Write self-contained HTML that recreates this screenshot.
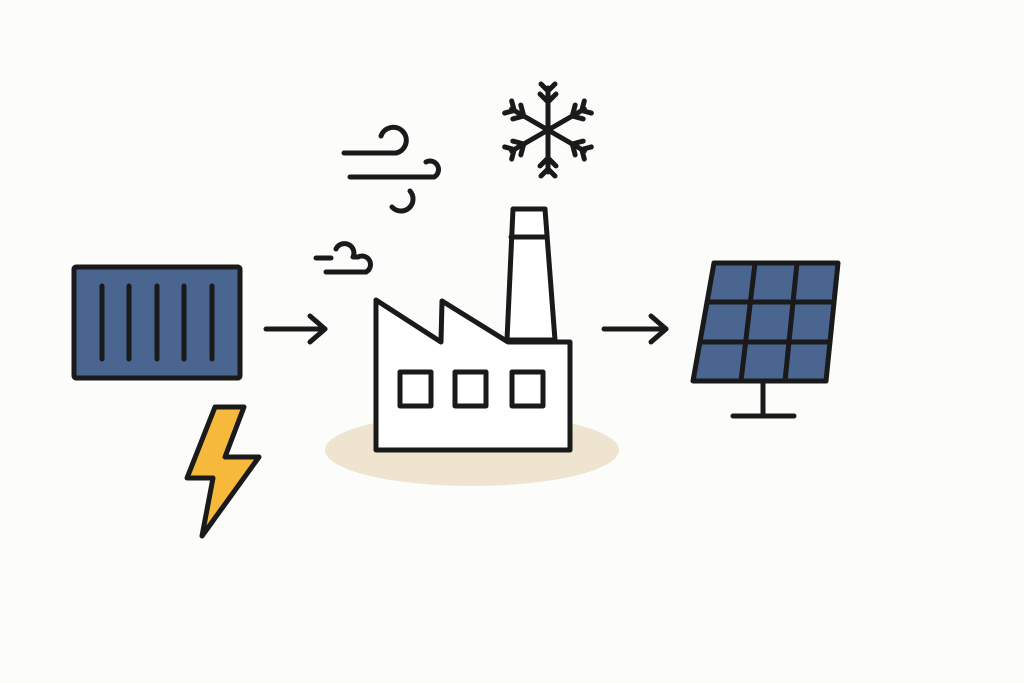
<!DOCTYPE html>
<html><head><meta charset="utf-8"><style>html,body{margin:0;padding:0;background:#fcfcfa;}svg{display:block}</style></head>
<body>
<svg width="1024" height="683" viewBox="0 0 1024 683" xmlns="http://www.w3.org/2000/svg">
<rect width="1024" height="683" fill="#fcfcfa"/>
<g stroke="#1a1a1a" stroke-width="5" stroke-linecap="round" stroke-linejoin="round" fill="none">
<!-- container -->
<rect x="74" y="267" width="166" height="111" fill="#4a6590" rx="2"/>
<line x1="102" y1="286" x2="102" y2="359"/><line x1="129" y1="286" x2="129" y2="359"/><line x1="157" y1="286" x2="157" y2="359"/><line x1="184" y1="286" x2="184" y2="359"/><line x1="212" y1="286" x2="212" y2="359"/>
<!-- bolt -->
<polygon points="215,407 244,407 225,457 259,457 202,536 213,478 187,478" fill="#f6b93b"/>
<!-- arrows -->
<line x1="266" y1="329" x2="325" y2="329"/><polyline points="310,316 325,329 310,342"/>
<line x1="604" y1="329" x2="666" y2="329"/><polyline points="651,316 666,329 651,342"/>
<!-- ellipse -->
<ellipse cx="472" cy="450" rx="147" ry="36" fill="#efe4cf" stroke="none"/>
<!-- chimney -->
<polygon points="513,209 545,209 555,340 507,340" fill="#fff"/>
<line x1="511" y1="237" x2="547" y2="237"/>
<!-- factory -->
<polygon points="376,300 441,342 442,301 508,342 570,342 570,450 376,450" fill="#fff"/>
<rect x="400" y="372" width="31" height="34"/><rect x="455" y="372" width="31" height="34"/><rect x="512" y="372" width="31" height="34"/>
<!-- panel -->
<polygon points="714,263 838,263 826,381 693,381" fill="#4a6590"/>
<line x1="755" y1="263" x2="741" y2="381"/><line x1="797" y1="263" x2="785" y2="381"/>
<line x1="707" y1="302" x2="834" y2="302"/><line x1="700" y1="342" x2="830" y2="342"/>
<line x1="763" y1="381" x2="763" y2="416"/><line x1="733" y1="416" x2="794" y2="416"/>
<!-- snowflake -->
<g transform="translate(548,130)">
<g id="arm"><line x1="0" y1="0" x2="0" y2="-42"/><polyline points="-8,-36 0,-28 8,-36"/><polyline points="-7,-46 0,-39 7,-46"/></g>
<use href="#arm" transform="rotate(60)"/><use href="#arm" transform="rotate(120)"/><use href="#arm" transform="rotate(180)"/><use href="#arm" transform="rotate(240)"/><use href="#arm" transform="rotate(300)"/>
</g>
<!-- wind -->
<path d="M344,153 H396 A13,13 0 1 0 381,136"/>
<path d="M350,177 H434 A8,8 0 1 0 426,162"/>
<path d="M410,191 A10,10 0 0 1 392,207"/>
<!-- cloud -->
<line x1="316" y1="258" x2="331" y2="258"/>
<path d="M326,272 H366 A8,8 0 0 0 358,257 H353 A9,9 0 0 0 336,249"/>
</g>
</svg>
</body></html>
